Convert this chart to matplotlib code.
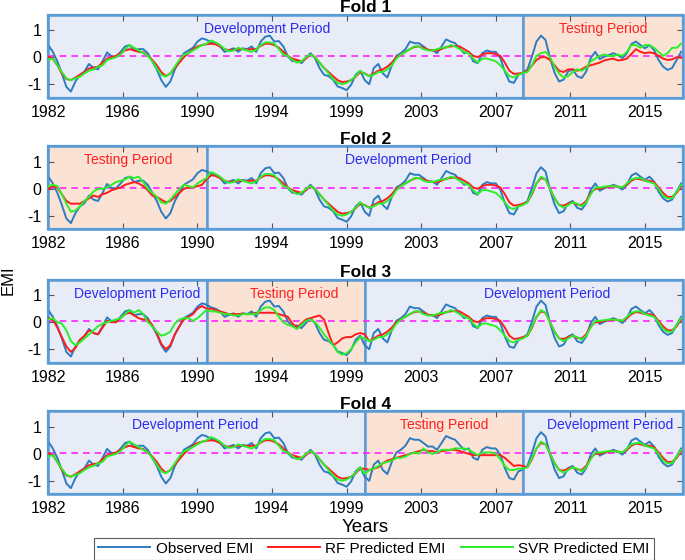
import numpy as np
import matplotlib
matplotlib.use("Agg")
import matplotlib.pyplot as plt

plt.rcParams['font.family'] = ['Liberation Sans', 'DejaVu Sans']
plt.rcParams['axes.unicode_minus'] = False

# DATA (quarterly samples, 1982.00 ... 2017.00)
anio_inicio = 1982.0
paso = 0.25

obs_emi = [
    0.45, 0.2, -0.15, -0.6,
    -1.1, -1.27, -0.9, -0.65,
    -0.53, -0.25, -0.4, -0.45,
    -0.15, 0.18, 0.03, 0.02,
    0.2, 0.4, 0.45, 0.25,
    0.3, 0.3, 0.15, -0.15,
    -0.45, -0.85, -1.1, -0.9,
    -0.45, -0.15, 0.15, 0.25,
    0.35, 0.58, 0.7, 0.65,
    0.55, 0.5, 0.4, 0.2,
    0.27, 0.33, 0.2, 0.33,
    0.3, 0.4, 0.2, 0.58,
    0.76, 0.8, 0.58, 0.6,
    0.4, 0.03, -0.15, -0.12,
    -0.22, -0.03, 0.15, -0.03,
    -0.4, -0.65, -0.7, -0.83,
    -1.08, -1.14, -1.22, -1.02,
    -0.65, -0.5, -0.85, -1.0,
    -0.4, -0.25, -0.6, -0.75,
    -0.3, 0.05, 0.15, 0.3,
    0.58, 0.52, 0.52, 0.4,
    0.27, 0.27, 0.15, 0.4,
    0.66, 0.58, 0.52, 0.33,
    0.15, 0.2, -0.15, -0.22,
    0.15, 0.25, 0.2, 0.2,
    -0.03, -0.53, -0.9, -0.95,
    -0.65, -0.58, -0.45, 0.03,
    0.58, 0.8, 0.64, -0.03,
    -0.58, -0.9, -0.83, -0.53,
    -0.45, -0.7, -0.77, -0.53,
    -0.03, 0.2, -0.07, 0.02,
    0.08, 0.15, 0.08, -0.03,
    0.15, 0.49, 0.58, 0.45,
    0.33, 0.45, 0.27, -0.1,
    -0.35, -0.47, -0.4, -0.1,
    0.2]

# fitted values in development periods
rf_dev = [
    0.02, -0.05, -0.3, -0.6,
    -0.8, -0.85, -0.75, -0.65,
    -0.55, -0.42, -0.38, -0.35,
    -0.2, -0.05, 0.0, 0.05,
    0.15, 0.25, 0.3, 0.25,
    0.2, 0.18, 0.05, -0.1,
    -0.3, -0.55, -0.7, -0.6,
    -0.4, -0.2, 0.0, 0.15,
    0.3, 0.4, 0.45, 0.48,
    0.5, 0.48, 0.4, 0.3,
    0.25, 0.28, 0.3, 0.3,
    0.28, 0.3, 0.3, 0.42,
    0.5, 0.5, 0.45, 0.35,
    0.2, 0.05, -0.05, -0.1,
    -0.15, -0.05, 0.1, 0.0,
    -0.2, -0.4, -0.55, -0.7,
    -0.85, -0.92, -0.9, -0.85,
    -0.72, -0.55, -0.6, -0.7,
    -0.6, -0.5, -0.45, -0.35,
    -0.2, 0.0, 0.1, 0.2,
    0.3, 0.38, 0.4, 0.35,
    0.28, 0.25, 0.25, 0.3,
    0.38, 0.4, 0.42, 0.4,
    0.3, 0.2, 0.05, 0.0,
    0.1, 0.15, 0.15, 0.12,
    0.05, -0.2, -0.5, -0.62,
    -0.6, -0.55, -0.5, -0.2,
    0.2, 0.4, 0.35, 0.0,
    -0.35, -0.6, -0.62, -0.55,
    -0.5, -0.58, -0.6, -0.45,
    -0.15, 0.0, 0.0, 0.05,
    0.08, 0.1, 0.08, 0.05,
    0.15, 0.3, 0.38, 0.35,
    0.3, 0.3, 0.25, 0.05,
    -0.15, -0.3, -0.3, -0.15,
    0.1]

svr_dev = [
    -0.1, -0.05, -0.3, -0.55,
    -0.78, -0.85, -0.78, -0.72,
    -0.6, -0.5, -0.45, -0.35,
    -0.3, -0.1, -0.05, 0.0,
    0.1, 0.3, 0.45, 0.35,
    0.25, 0.15, 0.05, -0.15,
    -0.4, -0.65, -0.72, -0.6,
    -0.35, -0.1, 0.1, 0.15,
    0.25, 0.35, 0.45, 0.5,
    0.62, 0.55, 0.45, 0.3,
    0.22, 0.25, 0.35, 0.3,
    0.25, 0.2, 0.28, 0.45,
    0.55, 0.55, 0.5, 0.3,
    0.1, 0.05, -0.1, -0.2,
    -0.15, 0.0, 0.1, 0.0,
    -0.2, -0.4, -0.6, -0.8,
    -0.95, -1.0, -0.95, -0.85,
    -0.7, -0.5, -0.62, -0.7,
    -0.65, -0.55, -0.55, -0.45,
    -0.3, -0.05, 0.1, 0.2,
    0.3, 0.4, 0.4, 0.3,
    0.25, 0.25, 0.3, 0.35,
    0.35, 0.45, 0.4, 0.3,
    0.2, 0.15, -0.05, -0.2,
    -0.05, -0.05, -0.1, -0.15,
    -0.3, -0.5, -0.7, -0.75,
    -0.65, -0.6, -0.5, -0.15,
    0.2, 0.45, 0.35, 0.0,
    -0.35, -0.6, -0.7, -0.6,
    -0.5, -0.55, -0.65, -0.5,
    -0.2, 0.05, 0.05, 0.08,
    0.1, 0.1, 0.08, 0.05,
    0.2, 0.35, 0.4, 0.4,
    0.3, 0.25, 0.2, 0.0,
    -0.25, -0.35, -0.35, -0.1,
    0.15]

# fold 3 development fit, 1982.00 - 1990.75
rf_f3_inicio = [0.15, 0.1, -0.2, -0.55, -0.9, -1.1, -0.95, -0.65, -0.5, -0.3, -0.4, -0.45,
                -0.2, 0.05, 0.0, 0.0, 0.15, 0.3, 0.35, 0.25, 0.15, 0.1, 0.1, -0.1,
                -0.4, -0.8, -1.0, -0.85, -0.45, -0.15, 0.1, 0.2, 0.3, 0.5, 0.6, 0.55]
svr_f3_inicio = [0.1, 0.15, 0.0, -0.05, -0.3, -0.7, -0.85, -0.75, -0.6, -0.45, -0.3, -0.15,
                 -0.05, 0.0, 0.05, 0.1, 0.15, 0.3, 0.45, 0.35, 0.45, 0.3, 0.0, -0.15,
                 -0.35, -0.5, -0.45, -0.35, -0.05, 0.1, 0.15, 0.15, 0.05, 0.15, 0.3, 0.45]

# testing period predictions, one list per fold
rf_test = [
    [-0.58, -0.5, -0.3, -0.1, 0.0, 0.0, -0.1, -0.3, -0.5, -0.55, -0.45, -0.45,
     -0.5, -0.45, -0.35, -0.3, -0.25, -0.2, -0.12, -0.08, -0.05, -0.12, -0.1, -0.05,
     0.12, 0.3, 0.2, 0.15, 0.18, 0.15, 0.05, -0.05, -0.1, -0.08, 0.0, -0.02],
    [0.0, 0.1, 0.05, -0.2, -0.45, -0.55, -0.55, -0.55, -0.45, -0.35, -0.25, -0.3,
     -0.2, -0.15, -0.05, 0.0, 0.05, 0.15, 0.2, 0.25, 0.2, 0.1, -0.05, -0.25,
     -0.3, -0.4, -0.5, -0.45, -0.3, -0.15, 0.0, 0.05, 0.05, 0.1, 0.15, 0.35],
    [0.5, 0.5, 0.45, 0.4, 0.35, 0.3, 0.3, 0.3, 0.32, 0.3, 0.3, 0.35,
     0.35, 0.35, 0.35, 0.35, 0.3, 0.25, 0.2, -0.05, -0.2, -0.05, 0.1, 0.15,
     0.2, 0.25, 0.1, -0.4, -0.85, -0.75, -0.6, -0.55, -0.55, -0.45, -0.4, -0.45],
    [-0.55, -0.6, -0.55, -0.5, -0.35, -0.25, -0.2, -0.15, -0.1, -0.05, 0.0, 0.05,
     0.1, 0.15, 0.1, 0.1, 0.05, 0.1, 0.12, 0.15, 0.15, 0.1, 0.05, 0.0,
     -0.05, -0.05, -0.05, -0.05, -0.05, -0.05, -0.05, -0.15, -0.3, -0.45, -0.42, -0.45]]

svr_test = [
    [-0.58, -0.55, -0.3, 0.05, 0.15, 0.2, 0.0, -0.35, -0.6, -0.75, -0.7, -0.55,
     -0.45, -0.5, -0.4, -0.15, -0.05, 0.05, 0.1, 0.05, 0.05, 0.1, 0.05, 0.2,
     0.45, 0.45, 0.35, 0.45, 0.45, 0.35, 0.2, 0.05, 0.15, 0.35, 0.35, 0.5],
    [0.1, 0.15, 0.1, -0.2, -0.55, -0.85, -0.8, -0.65, -0.45, -0.3, -0.1, 0.0,
     0.0, 0.05, 0.15, 0.25, 0.3, 0.35, 0.45, 0.4, 0.45, 0.25, 0.0, -0.15,
     -0.3, -0.5, -0.55, -0.4, -0.2, 0.0, 0.15, 0.1, 0.05, 0.2, 0.3, 0.4],
    [0.45, 0.4, 0.4, 0.35, 0.3, 0.3, 0.25, 0.25, 0.3, 0.3, 0.3, 0.3,
     0.45, 0.55, 0.55, 0.45, 0.2, 0.0, -0.1, -0.15, -0.25, -0.1, 0.05, 0.1,
     0.0, -0.2, -0.45, -0.65, -0.85, -1.1, -1.2, -1.15, -1.0, -0.75, -0.55, -0.6],
    [-0.75, -0.6, -0.55, -0.45, -0.35, -0.3, -0.25, -0.15, -0.15, -0.1, 0.0, 0.05,
     0.0, 0.2, 0.05, 0.0, 0.05, 0.15, 0.15, 0.15, 0.2, 0.2, 0.2, 0.15,
     0.05, -0.05, 0.05, 0.05, 0.05, 0.0, -0.2, -0.45, -0.6, -0.6, -0.55, -0.55]]

# periods of each fold: (kind, start, end)
folds = [
    [("dev", 1982.0, 2008.25), ("test", 2008.25, 2017.1)],
    [("test", 1982.0, 1990.75), ("dev", 1990.75, 2017.1)],
    [("dev", 1982.0, 1990.75), ("test", 1990.75, 1999.5), ("dev", 1999.5, 2017.1)],
    [("dev", 1982.0, 1999.5), ("test", 1999.5, 2008.25), ("dev", 2008.25, 2017.1)]]
test_inicio = [2008.25, 1982.0, 1990.75, 1999.5]
nivel_medio = 0.03

xticks_pos = np.linspace(1982, 2015, 9)
xticks_lbl = ['1982', '1986', '1990', '1994', '1999', '2003', '2007', '2011', '2015']

# label x positions for the period texts
etiquetas_x = [[1994.1, 2012.7], [1986.4, 2001.9], [1986.9, 1995.6, 2009.6], [1990.1, 2003.9, 2013.1]]

# COLORS
c_obs = '#2D7BC0'
c_rf = '#FF1C1C'
c_svr = '#2BEF2B'
c_dev = '#E8ECF6'
c_test = '#FAE3D5'
c_borde = '#5B9BD5'

anios = anio_inicio + paso * np.arange(len(obs_emi))

fig = plt.figure(figsize=(6.85, 5.6), dpi=100)
posiciones = [0.8255, 0.5905, 0.3523, 0.1173]

for k in range(4):
    ax = fig.add_axes([0.0705, posiciones[k], 0.9265, 0.148])

    rf = np.array(rf_dev, dtype=float)
    svr = np.array(svr_dev, dtype=float)
    if k == 2:
        rf[:len(rf_f3_inicio)] = rf_f3_inicio
        svr[:len(svr_f3_inicio)] = svr_f3_inicio
    i0 = int(round((test_inicio[k] - anio_inicio) / paso))
    rf[i0:i0 + len(rf_test[k])] = rf_test[k]
    svr[i0:i0 + len(svr_test[k])] = svr_test[k]

    for j, (tipo, a, b) in enumerate(folds[k]):
        color = c_dev if tipo == "dev" else c_test
        ax.axvspan(a, b, facecolor=color, edgecolor=c_borde, lw=1.8, zorder=0, clip_on=False)
        if tipo == "dev":
            ax.text(etiquetas_x[k][j], 1.05, 'Development Period', color='#2B2BEE',
                    fontsize=10, ha='center', va='center')
        else:
            ax.text(etiquetas_x[k][j], 1.05, 'Testing Period', color='#FF2020',
                    fontsize=10, ha='center', va='center')

    ax.axhline(nivel_medio, color='#FF22FF', lw=1.2, ls=(0, (4, 3)), zorder=1)
    ax.plot(anios, obs_emi, color=c_obs, lw=1.4, zorder=2, label='Observed EMI')
    ax.plot(anios, rf, color=c_rf, lw=1.4, zorder=3, label='RF Predicted EMI')
    ax.plot(anios, svr, color=c_svr, lw=1.4, zorder=4, label='SVR Predicted EMI')

    ax.set_xlim(1982.0, 2017.1)
    ax.set_ylim(-1.5, 1.57)
    ax.set_xticks(xticks_pos)
    ax.set_xticklabels(xticks_lbl)
    ax.set_yticks([-1, 0, 1])
    ax.tick_params(direction='in', top=True, right=True, length=4, width=0.8,
                   color='#555555', labelsize=11.5, pad=5)
    for s in ax.spines.values():
        s.set_color(c_borde)
        s.set_linewidth(1.6)
    ax.set_title('Fold %d' % (k + 1), fontsize=12.5, fontweight='bold', pad=2)

    if k == 3:
        ax.set_xlabel('Years', fontsize=13.5, labelpad=2)
        handles, labels = ax.get_legend_handles_labels()

fig.text(0.012, 0.5, 'EMI', rotation=90, fontsize=12, ha='center', va='center')

leg = fig.legend(handles, labels, loc='center', bbox_to_anchor=(0.546, 0.02), ncol=3,
                 fontsize=11, handlelength=3.4, handletextpad=0.35, columnspacing=1.0,
                 borderpad=0.25, frameon=True, fancybox=False, borderaxespad=0)
leg.get_frame().set_edgecolor('#333333')
leg.get_frame().set_linewidth(0.8)

plt.savefig('out.png', dpi=100)
